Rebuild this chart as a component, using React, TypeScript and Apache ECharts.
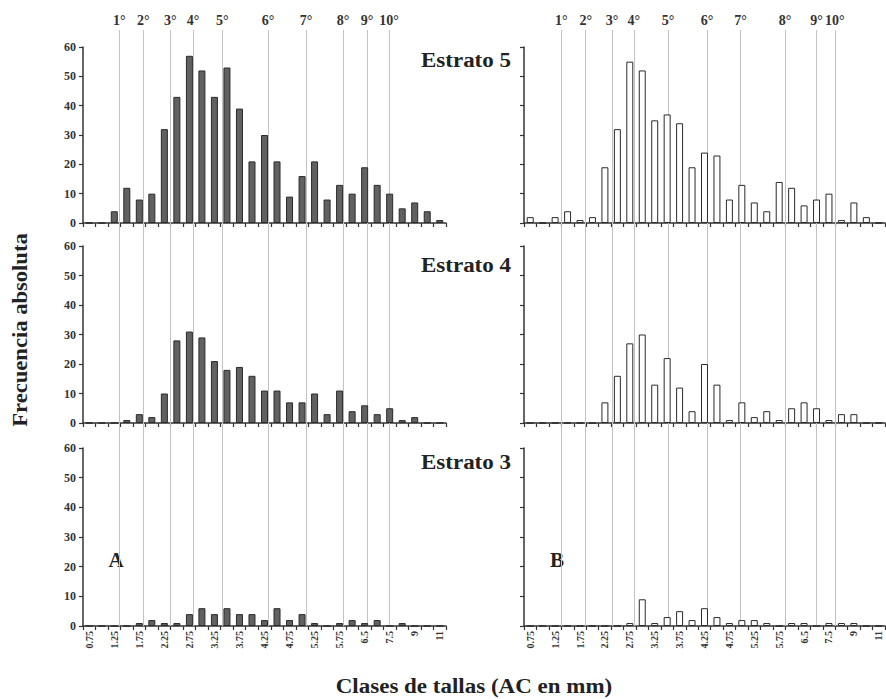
import React, { useEffect, useRef } from 'react';
import * as echarts from 'echarts';

// Size classes (AC en mm)
const categories = ['0.75','1','1.25','1.5','1.75','2','2.25','2.5','2.75','3','3.25','3.5','3.75','4','4.25','4.5','4.75','5','5.25','5.5','5.75','6','6.5','7','7.5','8','9','10','11'];

// Panel A (filled bars)
const estrato5A = [0,0,4,12,8,10,32,43,57,52,43,53,39,21,30,21,9,16,21,8,13,10,19,13,10,5,7,4,1];
const estrato4A = [0,0,0,1,3,2,10,28,31,29,21,18,19,16,11,11,7,7,10,3,11,4,6,3,5,1,2,0,0];
const estrato3A = [0,0,0,0,1,2,1,1,4,6,4,6,4,4,2,6,2,4,1,0,1,2,1,2,0,1,0,0,0];

// Panel B (open bars)
const estrato5B = [2,0,2,4,1,2,19,32,55,52,35,37,34,19,24,23,8,13,7,4,14,12,6,8,10,1,7,2,0];
const estrato4B = [0,0,0,0,0,0,7,16,27,30,13,22,12,4,20,13,1,7,2,4,1,5,7,5,1,3,3,0,0];
const estrato3B = [0,0,0,0,0,0,0,0,1,9,1,3,5,2,6,3,1,2,2,1,0,1,1,0,1,1,1,0,0];

// Cohort (age) reference lines, position along the class axis in class units
const cohortLabels = ['1°','2°','3°','4°','5°','6°','7°','8°','9°','10°'];
const cohortPosA = [2.9,4.81,6.97,8.8,11.12,14.79,17.82,20.78,22.7,24.45];
const cohortPosB = [3.0,4.96,7.07,8.82,11.58,14.71,17.39,20.98,23.5,24.97];

const yMin = 0;
const yMax = 60;
const yInterval = 10;

const stratumLabels = ['Estrato 5','Estrato 4','Estrato 3'];
const panelLetters = ['A','B'];

const FONT = "'Liberation Serif', 'Times New Roman', serif";

export default function App() {
  const ref = useRef<HTMLDivElement>(null);

  useEffect(() => {
    if (!ref.current) return;
    const chart = echarts.init(ref.current, undefined, { renderer: 'svg' });

    const cols = [
      { left: 83, width: 363 },
      { left: 524, width: 361 },
    ];
    const rows = [
      { top: 47, height: 176 },
      { top: 246, height: 177 },
      { top: 448, height: 178 },
    ];
    const panelData = [
      [estrato5A, estrato5B],
      [estrato4A, estrato4B],
      [estrato3A, estrato3B],
    ];

    const grid: any[] = [];
    const xAxis: any[] = [];
    const yAxis: any[] = [];
    const series: any[] = [];

    rows.forEach((r, ri) => {
      cols.forEach((c, ci) => {
        const gi = grid.length;
        grid.push({ left: c.left, width: c.width, top: r.top, height: r.height, containLabel: false });
        xAxis.push({
          type: 'category',
          gridIndex: gi,
          data: categories,
          axisLine: { show: true, lineStyle: { color: '#333', width: 1.5 } },
          axisTick: { show: true, interval: 0, length: 4, lineStyle: { color: '#333', width: 1.2 } },
          axisLabel: {
            show: ri === 2,
            interval: 1,
            rotate: 90,
            margin: 5,
            fontFamily: FONT,
            fontWeight: 'bold',
            fontSize: 10,
            color: '#333',
          },
          splitLine: { show: false },
        });
        yAxis.push({
          type: 'value',
          gridIndex: gi,
          min: yMin,
          max: yMax,
          interval: yInterval,
          axisLine: { show: true, lineStyle: { color: '#333', width: 1.5 } },
          axisTick: { show: true, length: 4, lineStyle: { color: '#333', width: 1.2 } },
          axisLabel: {
            show: ci === 0,
            margin: 7,
            fontFamily: FONT,
            fontWeight: 'bold',
            fontSize: 12,
            color: '#333',
          },
          splitLine: { show: false },
        });
        series.push({
          type: 'bar',
          xAxisIndex: gi,
          yAxisIndex: gi,
          data: panelData[ri][ci],
          barWidth: '56%',
          z: 3,
          itemStyle: ci === 0
            ? { color: '#616161', borderColor: '#2a2a2a', borderWidth: 1 }
            : { color: '#ffffff', borderColor: '#2a2a2a', borderWidth: 1 },
        });
      });
    });

    // Full-height overlay grids for the cohort lines
    const cohortSets = [cohortPosA, cohortPosB];
    cols.forEach((c, ci) => {
      const gi = grid.length;
      grid.push({ left: c.left, width: c.width, top: 30, height: 596 });
      xAxis.push({ type: 'value', gridIndex: gi, min: 0, max: categories.length, show: false });
      yAxis.push({ type: 'value', gridIndex: gi, min: 0, max: 1, show: false });
      series.push({
        type: 'scatter',
        xAxisIndex: gi,
        yAxisIndex: gi,
        data: [[0, 0]],
        symbolSize: 0,
        silent: true,
        z: 1,
        markLine: {
          silent: true,
          symbol: ['none', 'none'],
          z: 1,
          lineStyle: { color: '#c2c2c2', width: 1, type: 'solid' },
          label: {
            show: true,
            position: 'end',
            distance: 3,
            formatter: '{b}',
            fontFamily: FONT,
            fontWeight: 'bold',
            fontSize: 14,
            color: '#333',
          },
          data: cohortSets[ci].map((v, i) => ({ xAxis: v, name: cohortLabels[i] })),
        },
      });
    });

    const stratumY = [61, 266, 463];
    const graphic: any[] = [];
    stratumLabels.forEach((s, i) => {
      graphic.push({
        type: 'text',
        x: 466,
        y: stratumY[i],
        scaleX: 1.15,
        style: {
          text: s,
          fontFamily: FONT,
          fontWeight: 'bold',
          fontSize: 20,
          fill: '#222',
          textAlign: 'center',
          textVerticalAlign: 'middle',
        },
      });
    });
    const letterX = [116, 557];
    panelLetters.forEach((l, i) => {
      graphic.push({
        type: 'text',
        x: letterX[i],
        y: 560,
        style: {
          text: l,
          fontFamily: FONT,
          fontWeight: 'bold',
          fontSize: 21,
          fill: '#222',
          textAlign: 'center',
          textVerticalAlign: 'middle',
        },
      });
    });
    graphic.push({
      type: 'text',
      x: 474,
      y: 687,
      scaleX: 1.15,
      style: {
        text: 'Clases de tallas (AC en mm)',
        fontFamily: FONT,
        fontWeight: 'bold',
        fontSize: 20,
        fill: '#222',
        textAlign: 'center',
        textVerticalAlign: 'middle',
      },
    });
    graphic.push({
      type: 'text',
      x: 20,
      y: 330,
      rotation: Math.PI / 2,
      scaleX: 1.13,
      style: {
        text: 'Frecuencia absoluta',
        fontFamily: FONT,
        fontWeight: 'bold',
        fontSize: 20,
        fill: '#222',
        textAlign: 'center',
        textVerticalAlign: 'middle',
      },
    });

    chart.setOption({
      animation: false,
      backgroundColor: '#ffffff',
      grid,
      xAxis,
      yAxis,
      series,
      graphic,
    });

    return () => chart.dispose();
  }, []);

  return (
    <div
      ref={ref}
      style={{ position: 'fixed', left: 0, top: 0, width: 886, height: 699 }}
    />
  );
}
